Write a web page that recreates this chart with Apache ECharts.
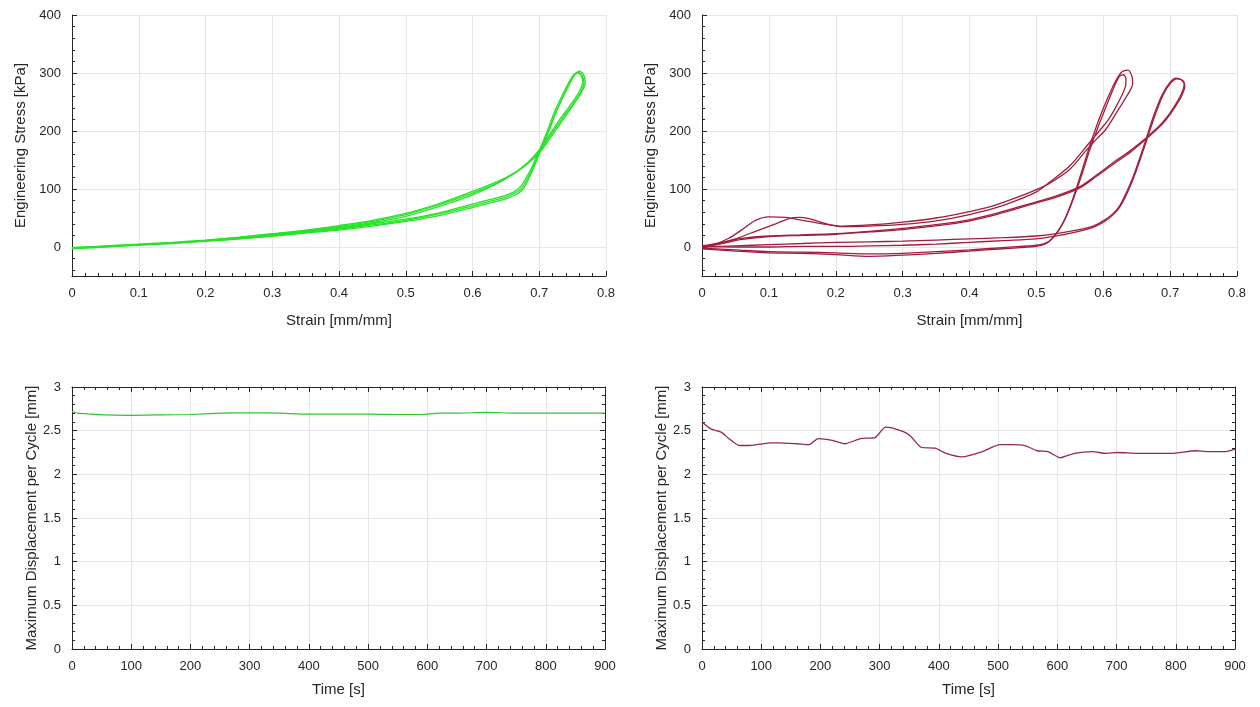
<!DOCTYPE html>
<html>
<head>
<meta charset="utf-8">
<script src="https://cdn.jsdelivr.net/npm/echarts@6/dist/echarts.min.js"></script>
<style>
html,body{margin:0;padding:0;background:#fff;}
#c{width:1260px;height:707px;}
</style>
</head>
<body>
<div id="c"></div>
<script>
// ---------- Axis ranges / ticks ----------
const strainRange = [0, 0.8];
const strainInterval = 0.1;
const stressRange = [-50, 400];
const timeRange = [0, 900];
const timeInterval = 100;
const dispRange = [0, 3];
const dispInterval = 0.5;

// ---------- Top-left (green): stress-strain cycles [strain, stress] ----------
const greenCycle1 = [
  [0,-3],[0.05,0],[0.1,3],[0.15,6],[0.2,10],[0.25,14],[0.3,19],[0.35,24],[0.4,29],[0.45,36],[0.5,44],
  [0.55,54],[0.6,68],[0.63,77],[0.65,83],[0.665,90],[0.676,100],[0.688,127],[0.7,160],[0.713,196],
  [0.727,237],[0.742,274],[0.752,295],[0.76,303],
  [0.766,298],[0.769,283],[0.763,266],[0.751,245],[0.736,220],[0.719,192],[0.703,166],[0.686,147],
  [0.666,130],[0.64,114],[0.6,96],[0.55,75],[0.5,58],[0.45,46],[0.4,37],[0.35,29],[0.3,23],[0.25,17],
  [0.2,12],[0.15,8],[0.1,5],[0.05,2],[0,-1]
];
const greenCycle2 = [
  [0,-2],[0.05,1],[0.1,4],[0.15,7],[0.2,11],[0.25,15],[0.3,20],[0.35,26],[0.4,32],[0.45,40],[0.5,48],
  [0.55,59],[0.6,74],[0.63,83],[0.65,89],[0.662,95],[0.672,104],[0.686,131],[0.698,161],[0.711,197],
  [0.724,236],[0.739,272],[0.749,293],[0.756,300],
  [0.762,297],[0.765,285],[0.76,268],[0.748,247],[0.732,222],[0.715,193],[0.699,166],[0.682,145],
  [0.662,127],[0.638,110],[0.6,90],[0.55,70],[0.5,53],[0.45,42],[0.4,34],[0.35,27],[0.3,21],[0.25,16],
  [0.2,11],[0.15,7],[0.1,4],[0.05,1],[0,-2]
];
const greenCycle3 = [
  [0,-1],[0.05,1],[0.1,4],[0.15,7],[0.2,10],[0.25,14],[0.3,19],[0.35,25],[0.4,31],[0.45,38],[0.5,46],
  [0.55,57],[0.6,71],[0.63,80],[0.65,86],[0.664,93],[0.674,102],[0.687,129],[0.699,160],[0.712,195],
  [0.726,235],[0.741,272],[0.751,293],[0.758,301],
  [0.764,296],[0.767,284],[0.762,267],[0.75,246],[0.734,221],[0.717,193],[0.701,166],[0.684,146],
  [0.664,128],[0.64,112],[0.6,93],[0.55,73],[0.5,56],[0.45,44],[0.4,35],[0.35,28],[0.3,22],[0.25,16],
  [0.2,11],[0.15,7],[0.1,4],[0.05,1],[0,-2]
];

// ---------- Top-right (red): stress-strain cycles [strain, stress] ----------
const redCycleA1 = [
  [0,-3],[0.05,-7],[0.1,-10],[0.15,-11],[0.2,-13],[0.25,-16],[0.3,-14],[0.35,-11],[0.4,-7],[0.45,-3],
  [0.5,1],[0.515,6],[0.528,20],[0.54,42],[0.552,75],[0.565,120],[0.578,168],[0.592,215],[0.606,255],
  [0.618,285],[0.628,302],[0.637,305],
  [0.643,294],[0.644,282],[0.635,260],[0.62,232],[0.604,203],[0.59,186],[0.577,170],[0.55,134],
  [0.52,110],[0.5,99],[0.47,85],[0.435,71],[0.4,61],[0.35,50],[0.3,43],[0.25,38],[0.21,36],[0.18,40],
  [0.15,46],[0.125,51],[0.1,52],[0.08,46],[0.06,30],[0.04,15],[0.02,5],[0,-2]
];
const redCycleA2 = [
  [0,-2],[0.05,-5],[0.1,-8],[0.15,-9],[0.2,-10],[0.25,-12],[0.3,-11],[0.35,-8],[0.4,-5],[0.45,-1],
  [0.5,3],[0.518,9],[0.53,24],[0.542,46],[0.555,82],[0.568,125],[0.58,168],[0.594,212],[0.607,250],
  [0.617,278],[0.624,294],[0.63,297],
  [0.634,290],[0.633,276],[0.622,248],[0.608,220],[0.594,200],[0.578,178],[0.55,140],[0.52,112],
  [0.5,95],[0.47,80],[0.435,66],[0.4,56],[0.35,45],[0.3,39],[0.25,36],[0.21,35],[0.18,42],[0.16,49],
  [0.145,51],[0.13,49],[0.11,40],[0.08,27],[0.05,14],[0.02,4],[0,-1]
];
const redCycleB1 = [
  [0,0],[0.05,2],[0.1,4],[0.15,6],[0.2,8],[0.25,9],[0.3,10],[0.35,12],[0.4,14],[0.45,16],[0.5,19],
  [0.53,23],[0.56,29],[0.585,36],[0.6,45],[0.615,58],[0.625,72],[0.635,95],[0.645,122],[0.655,155],
  [0.664,186],[0.675,225],[0.687,260],[0.7,284],[0.709,291],
  [0.717,288],[0.721,280],[0.716,262],[0.705,240],[0.694,222],[0.684,209],[0.664,188],[0.64,166],
  [0.619,149],[0.59,124],[0.565,104],[0.53,88],[0.5,78],[0.44,58],[0.386,44],[0.33,36],[0.3,32],
  [0.25,27],[0.2,23],[0.15,21],[0.1,19],[0.06,15],[0.03,8],[0,2]
];
const redCycleB2 = [
  [0,1],[0.05,0],[0.1,0],[0.15,1],[0.2,1],[0.25,2],[0.3,3],[0.35,5],[0.4,8],[0.45,11],[0.5,14],
  [0.53,19],[0.56,26],[0.585,34],[0.602,44],[0.617,58],[0.627,73],[0.637,96],[0.647,124],[0.657,157],
  [0.666,188],[0.677,226],[0.689,261],[0.701,283],[0.711,290],
  [0.719,287],[0.722,278],[0.717,260],[0.706,239],[0.695,221],[0.685,208],[0.665,187],[0.641,164],
  [0.62,147],[0.59,122],[0.565,102],[0.53,86],[0.5,76],[0.44,56],[0.386,42],[0.33,34],[0.3,30],
  [0.25,26],[0.2,22],[0.15,20],[0.1,18],[0.06,13],[0.03,6],[0,0]
];

// ---------- Bottom-left (green): max displacement per cycle ----------
const greenTime = [0,10,30,60,100,150,200,250,300,350,400,450,500,550,590,620,650,700,750,800,850,900];
const greenDisp = [2.72,2.70,2.69,2.68,2.675,2.68,2.685,2.70,2.705,2.70,2.69,2.69,2.69,2.685,2.685,2.70,2.70,2.71,2.70,2.70,2.70,2.70];

// ---------- Bottom-right (red): max displacement per cycle ----------
const redTime = [0,15,33,45,63,81,117,129,160,181,196,220,241,268,292,310,340,352,370,394,412,439,473,503,521,545,566,584,605,629,659,683,701,737,792,834,852,882,900];
const redDisp = [2.60,2.52,2.48,2.41,2.33,2.33,2.36,2.36,2.35,2.34,2.41,2.39,2.35,2.41,2.42,2.54,2.49,2.44,2.31,2.30,2.24,2.20,2.26,2.34,2.34,2.33,2.27,2.26,2.19,2.24,2.26,2.24,2.25,2.24,2.24,2.27,2.26,2.26,2.29];

// ---------- Styling helpers ----------
const INK = '#262626';
const GRIDC = '#e6e6e6';
const FONT = 'Liberation Sans, Arial, sans-serif';

function baseAxis(extra) {
  return Object.assign({
    type: 'value',
    axisLine: { show: true, onZero: false, lineStyle: { color: INK, width: 1 } },
    axisTick: { show: true, inside: true, length: 5, lineStyle: { color: INK } },
    minorTick: { show: true, splitNumber: 5, length: 3, lineStyle: { color: INK } },
    splitLine: { show: true, lineStyle: { color: GRIDC, width: 1 } },
    axisLabel: { color: INK, fontSize: 13, fontFamily: FONT, margin: 11 },
    nameTextStyle: { color: INK, fontSize: 15, fontFamily: FONT },
    nameLocation: 'middle'
  }, extra);
}
function mirrorAxis(extra) {
  return Object.assign(baseAxis({}), {
    axisLabel: { show: false },
    splitLine: { show: false }
  }, extra);
}

const grids = [
  { left: 72, top: 15, width: 534, height: 261 },
  { left: 702, top: 15, width: 535, height: 261 },
  { left: 72, top: 387, width: 533, height: 262 },
  { left: 702, top: 387, width: 533, height: 262 }
];

const xAxes = [
  baseAxis({ gridIndex: 0, min: strainRange[0], max: strainRange[1], interval: strainInterval, name: 'Strain [mm/mm]', nameGap: 37 }),
  baseAxis({ gridIndex: 1, min: strainRange[0], max: strainRange[1], interval: strainInterval, name: 'Strain [mm/mm]', nameGap: 37 }),
  baseAxis({ gridIndex: 2, min: timeRange[0], max: timeRange[1], interval: timeInterval, name: 'Time [s]', nameGap: 33 }),
  baseAxis({ gridIndex: 3, min: timeRange[0], max: timeRange[1], interval: timeInterval, name: 'Time [s]', nameGap: 33 }),
  mirrorAxis({ gridIndex: 2, position: 'top', min: timeRange[0], max: timeRange[1], interval: timeInterval }),
  mirrorAxis({ gridIndex: 3, position: 'top', min: timeRange[0], max: timeRange[1], interval: timeInterval })
];
const yAxes = [
  baseAxis({ gridIndex: 0, min: stressRange[0], max: stressRange[1], name: 'Engineering Stress [kPa]', nameGap: 44, axisLabel: { color: INK, fontSize: 13, fontFamily: FONT, margin: 11, showMinLabel: false } }),
  baseAxis({ gridIndex: 1, min: stressRange[0], max: stressRange[1], name: 'Engineering Stress [kPa]', nameGap: 44, axisLabel: { color: INK, fontSize: 13, fontFamily: FONT, margin: 11, showMinLabel: false } }),
  baseAxis({ gridIndex: 2, min: dispRange[0], max: dispRange[1], interval: dispInterval, name: 'Maximum Displacement per Cycle [mm]', nameGap: 32 }),
  baseAxis({ gridIndex: 3, min: dispRange[0], max: dispRange[1], interval: dispInterval, name: 'Maximum Displacement per Cycle [mm]', nameGap: 32 }),
  mirrorAxis({ gridIndex: 2, position: 'right', min: dispRange[0], max: dispRange[1], interval: dispInterval }),
  mirrorAxis({ gridIndex: 3, position: 'right', min: dispRange[0], max: dispRange[1], interval: dispInterval })
];

function loop(data, axisIdx, color, width) {
  return {
    type: 'line', data: data, xAxisIndex: axisIdx, yAxisIndex: axisIdx,
    showSymbol: false, smooth: 0.3, silent: true, animation: false,
    lineStyle: { color: color, width: width }
  };
}
function zipXY(xs, ys) { return xs.map((x, i) => [x, ys[i]]); }

const GREEN = '#26e426';
const RED = '#a11d3e';

const series = [
  loop(greenCycle1, 0, GREEN, 1.3),
  loop(greenCycle2, 0, GREEN, 1.3),
  loop(greenCycle3, 0, GREEN, 1.3),
  loop(redCycleA1, 1, RED, 1.3),
  loop(redCycleA2, 1, RED, 1.3),
  loop(redCycleB1, 1, RED, 1.3),
  loop(redCycleB2, 1, RED, 1.3),
  Object.assign(loop(zipXY(greenTime, greenDisp), 2, '#2cc72c', 1.2), { smooth: 0.2 }),
  Object.assign(loop(zipXY(redTime, redDisp), 3, '#962a45', 1.3), { smooth: 0.2 })
];

const chart = echarts.init(document.getElementById('c'), null, { renderer: 'canvas' });
chart.setOption({
  backgroundColor: '#ffffff',
  animation: false,
  grid: grids,
  xAxis: xAxes,
  yAxis: yAxes,
  series: series
});
</script>
</body>
</html>
